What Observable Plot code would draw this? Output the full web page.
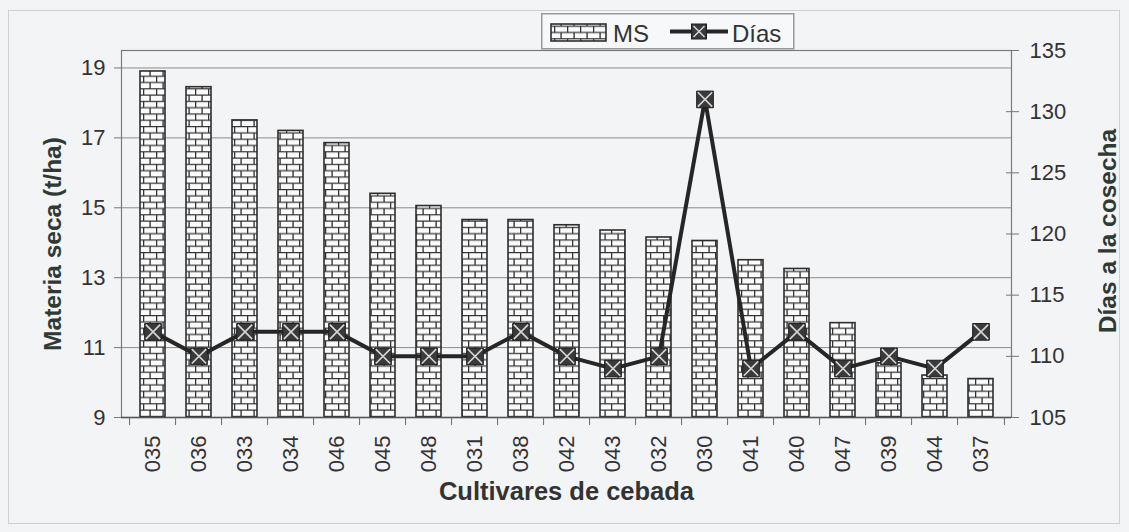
<!DOCTYPE html>
<html><head><meta charset="utf-8">
<script src="https://cdn.jsdelivr.net/npm/d3@7"></script>
<script src="https://cdn.jsdelivr.net/npm/@observablehq/plot@0.6"></script>
<style>
body{margin:0;background:#f3f4f6;font-family:"Liberation Sans",Arial,sans-serif;}
#wrap{position:relative;width:1129px;height:532px;overflow:hidden;}
#frame{position:absolute;left:8px;top:10px;width:1112px;height:514px;border:1px solid #cfd0d3;box-sizing:border-box;}
#chart{position:absolute;left:0;top:0;}
#legend{position:absolute;left:541px;top:13px;}
</style></head><body>
<div id="wrap"><div id="frame"></div><div id="chart"></div><div id="legend"></div></div>
<script>
// ---- data ----
const cultivares = ["035","036","033","034","046","045","048","031","038","042","043","032","030","041","040","047","039","044","037"];
const materiaSeca = [18.9,18.45,17.5,17.2,16.85,15.4,15.05,14.65,14.65,14.5,14.35,14.15,14.05,13.5,13.25,11.7,10.55,10.2,10.1];
const diasCosecha = [112,110,112,112,112,110,110,110,112,110,109,110,131,109,112,109,110,109,112];
const msTicks = [9,11,13,15,17,19];
const diasTicks = [105,110,115,120,125,130,135];
const msDomain = [9, 19.5];
const diasDomain = [105, 135];

// ---- layout ----
const W = 1129, H = 532, ML = 121, MR = 118, MT = 50, MB = 115;
const step = (W - ML - MR) / cultivares.length;
const toMs = d3.scaleLinear().domain(diasDomain).range(msDomain);
const data = cultivares.map((c, i) => ({c, ms: materiaSeca[i], dias: diasCosecha[i], dy: toMs(diasCosecha[i])}));

const brickDefs = (id) => `<pattern id="${id}" patternUnits="userSpaceOnUse" width="13" height="12.6"><rect width="13" height="12.6" fill="#fbfbfb"/><path d="M0 0.6H13M0 6.9H13M0.6 0.6V6.9M7.1 6.9V12.6" stroke="#333" stroke-width="1.35" fill="none"/></pattern>`;
const defs = () => {
  const d = document.createElementNS("http://www.w3.org/2000/svg", "defs");
  d.innerHTML = brickDefs("brick");
  return d;
};

const plot = Plot.plot({
  width: W, height: H,
  marginLeft: ML, marginRight: MR, marginTop: MT, marginBottom: MB,
  style: {fontFamily: "'Liberation Sans', Arial, sans-serif", background: "transparent", overflow: "visible"},
  x: {type: "band", domain: cultivares, paddingInner: 0.466, paddingOuter: 0.233, axis: null},
  y: {domain: msDomain, axis: null},
  marks: [
    defs,
    Plot.gridY(msTicks.slice(1), {stroke: "#8c8c8c", strokeOpacity: 1, strokeWidth: 1}),
    Plot.frame({stroke: "#7a7a7a", strokeWidth: 1.2}),
    Plot.barY(data, {x: "c", y1: msDomain[0], y2: "ms", fill: "url(#brick)", stroke: "#2e2e2e", strokeWidth: 1.6}),
    Plot.ruleY([msDomain[0]], {stroke: "#555", strokeWidth: 1.5}),
    // left axis
    Plot.axisY(msTicks, {anchor: "left", tickSize: 7, tickPadding: 9, fontSize: 22, stroke: "#777", fill: "#333", label: null}),
    // right axis
    Plot.axisY(diasTicks.map(toMs), {anchor: "right", tickSize: 7, tickPadding: 11, fontSize: 22, stroke: "#777", fill: "#333", label: null, tickFormat: v => Math.round(toMs.invert(v))}),
    Plot.axisY(diasTicks.slice(1, -1).map(toMs), {anchor: "right", tickSize: -6, stroke: "#777", label: null, tickFormat: () => ""}),
    // x axis labels
    Plot.axisX({anchor: "bottom", tickSize: 0, tickPadding: 18, tickRotate: -90, fontSize: 22, fill: "#333", label: null}),
    // category boundary ticks
    Plot.axisX({anchor: "bottom", tickSize: 8, dx: -step / 2, stroke: "#666", tickFormat: () => "", label: null}),
    Plot.axisX([cultivares[cultivares.length - 1]], {anchor: "bottom", tickSize: 8, dx: step / 2, stroke: "#666", tickFormat: () => "", label: null}),
    // days line
    Plot.line(data, {x: "c", y: "dy", stroke: "#262626", strokeWidth: 4}),
    Plot.dot(data, {x: "c", y: "dy", symbol: "square", r: 9.4, fill: "#3a3a3a", stroke: "#1e1e1e", strokeWidth: 1}),
    Plot.dot(data, {x: "c", y: "dy", symbol: "times", r: 6.6, stroke: "#d6d6d6", strokeWidth: 1.6}),
    // titles
    Plot.text(["Materia seca (t/ha)"], {text: d => d, frameAnchor: "left", textAnchor: "middle", dx: -68, dy: 10, rotate: -90, fontSize: 24.5, fontWeight: "bold", fill: "#2f3a35"}),
    Plot.text(["Días a la cosecha"], {text: d => d, frameAnchor: "right", textAnchor: "middle", dx: 97, dy: -3, rotate: -90, fontSize: 24.5, fontWeight: "bold", fill: "#2f3a35"}),
    Plot.text(["Cultivares de cebada"], {text: d => d, frameAnchor: "bottom", textAnchor: "middle", dy: 82, fontSize: 25.5, fontWeight: "bold", fill: "#333"})
  ]
});
document.getElementById("chart").appendChild(plot);

// ---- legend ----
const legend = `<svg width="254" height="38" xmlns="http://www.w3.org/2000/svg" style="font-family:'Liberation Sans',Arial,sans-serif">
<defs>${brickDefs("brickL")}</defs>
<rect x="0.75" y="0.75" width="252" height="35" fill="#f7f8f9" stroke="#9a9a9a" stroke-width="1.5"/>
<rect x="10" y="11" width="55" height="17" fill="url(#brickL)" stroke="#2e2e2e" stroke-width="1.6"/>
<text x="72" y="28.5" font-size="24" fill="#333">MS</text>
<line x1="129" y1="18.5" x2="187" y2="18.5" stroke="#262626" stroke-width="4"/>
<rect x="150.5" y="11" width="15" height="15" fill="#3a3a3a" stroke="#1e1e1e"/>
<path d="M152.5 13L163.5 24M163.5 13L152.5 24" stroke="#d6d6d6" stroke-width="1.5"/>
<text x="191" y="28.5" font-size="24" fill="#333">Días</text>
</svg>`;
document.getElementById("legend").innerHTML = legend;
</script>
</body></html>
